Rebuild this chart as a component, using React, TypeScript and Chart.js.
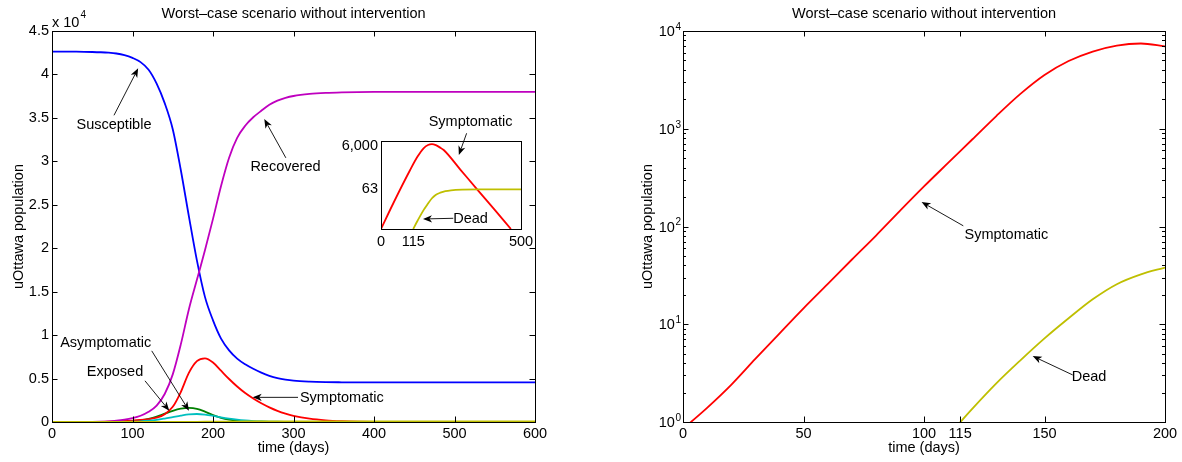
import { useEffect, useRef } from "react";
import { Chart, registerables } from "chart.js";

Chart.register(...registerables);

// ---------- left panel (linear axes), days 0..600 ----------
const DAYS = [0, 10, 20, 30, 40, 50, 60, 70, 80, 90, 100, 110, 120, 130, 140, 150, 160, 170, 180, 190, 200, 210, 220, 230, 240, 250, 260, 270, 280, 290, 300, 320, 340, 360, 380, 400, 450, 500, 550, 600];
const SUSCEPTIBLE = [42630, 42628, 42625, 42618, 42605, 42585, 42555, 42505, 42410, 42220, 41900, 41420, 40550, 38950, 36700, 33700, 29000, 23700, 18600, 14400, 11700, 9600, 8250, 7300, 6640, 6120, 5680, 5320, 5050, 4870, 4750, 4640, 4590, 4570, 4560, 4555, 4552, 4550, 4550, 4550];
const EXPOSED = [0, 0.5, 1, 2, 3, 6, 10, 18, 30, 55, 100, 200, 370, 620, 960, 1290, 1530, 1620, 1520, 1200, 800, 480, 270, 150, 85, 48, 27, 15, 9, 5, 3, 1, 0.3, 0, 0, 0, 0, 0, 0, 0];
const SYMPTOMATIC = [0.85, 1.4, 2.4, 4.4, 8, 14.5, 25, 42, 70, 110, 170, 240, 340, 500, 900, 1750, 3450, 5650, 7000, 7320, 6850, 5900, 4950, 4080, 3330, 2700, 2150, 1680, 1280, 960, 710, 380, 195, 99, 50, 25, 4.6, 0.84, 0.15, 0.03];
const ASYMPTOMATIC = [0, 0.2, 0.4, 0.8, 1.5, 2.5, 4.5, 8, 13, 22, 40, 80, 150, 250, 400, 570, 740, 880, 920, 850, 710, 540, 390, 265, 175, 112, 70, 44, 27, 17, 10, 4, 1.5, 0.5, 0, 0, 0, 0, 0, 0];
const RECOVERED = [0, 0, 1, 3, 6, 12, 30, 70, 150, 270, 450, 720, 1170, 1890, 3220, 5480, 8930, 12950, 16360, 19760, 23380, 27170, 30420, 32700, 34100, 35070, 35820, 36500, 36980, 37300, 37520, 37760, 37880, 37940, 37970, 37985, 38000, 38000, 38000, 38000];
const DEAD = [0, 0, 0, 0, 0, 0, 0, 0.02, 0.05, 0.15, 0.38, 0.72, 1.36, 2.48, 4.27, 7.16, 11.5, 18, 25.7, 32.4, 38, 43.5, 48, 51.8, 54.8, 57, 58.8, 60, 61, 61.7, 62.2, 62.7, 62.9, 63, 63, 63, 63, 63, 63, 63];

// ---------- right panel (log y), days 0..200 ----------
const LOG_DAYS = [0, 10, 20, 30, 40, 50, 60, 70, 80, 90, 100, 110, 120, 130, 140, 150, 160, 170, 180, 190, 200];
const LOG_SYMPTOMATIC = [0.851, 1.396, 2.399, 4.416, 8.035, 14.55, 25.7, 45.7, 80.4, 144.5, 257, 447, 776, 1349, 2273, 3548, 4932, 6166, 7096, 7447, 6966];
const LOG_DEAD = [0, 0, 0, 0, 0, 0, 0, 0.02, 0.05, 0.15, 0.38, 0.72, 1.36, 2.48, 4.27, 7.16, 11.5, 18, 25.7, 32.4, 38];

// ---------- inset data ----------
const INSET_SYM_DAYS = [0, 44, 104, 130, 152, 168, 182, 196, 210, 224, 284, 344, 404, 464];
const INSET_SYM = [1, 14.8, 479, 1905, 4677, 6607, 7244, 6457, 5129, 3890, 490, 61.7, 7.94, 1];
const INSET_DEAD_DAYS = [115, 130, 152, 165, 182, 195, 212, 230, 250, 290, 350, 500];
const INSET_DEAD = [1, 2.3, 7.2, 12.6, 25, 35.5, 44.7, 52.5, 57.5, 61.7, 63, 63];

// ---------- ticks / labels ----------
const TITLE = "Worst\u2013case scenario without intervention";
const X_TITLE = "time (days)";
const Y_TITLE = "uOttawa population";
const LEFT_X_MAX = 600;
const LEFT_Y_MAX = 45000;
const RIGHT_X_TICKS = [0, 50, 100, 115, 150, 200];
const RIGHT_Y_DECADES = [1, 10, 100, 1000, 10000];
const INSET_X_TICKS = [0, 115, 500];
const INSET_Y_TICKS = [63, 6000];

const COLORS = {
  S: "#0000ff",
  E: "#008000",
  Sym: "#ff0000",
  A: "#00bfbf",
  R: "#bf00bf",
  D: "#bfbf00",
};

type Note = { text: string; tx: number; ty: number; fx: number; fy: number; ax: number; ay: number };

const LEFT_NOTES: Note[] = [
  { text: "Susceptible", tx: 77, ty: 34200, fx: 77, fy: 35300, ax: 107, ay: 40700 },
  { text: "Recovered", tx: 290, ty: 29360, fx: 290.5, fy: 30400, ax: 263.7, ay: 34870 },
  { text: "Symptomatic", tx: 360, ty: 2755, fx: 305.6, fy: 2836, ax: 249.3, ay: 2836 },
  { text: "Asymptomatic", tx: 66.7, ty: 9035, fx: 123.9, fy: 8186, ax: 170.2, ay: 1297 },
  { text: "Exposed", tx: 78.3, ty: 5706, fx: 115.5, fy: 4742, ax: 145.7, ay: 1297 },
];
const RIGHT_NOTES: Note[] = [
  { text: "Symptomatic", tx: 134.2, ty: 81.8, fx: 116.3, fy: 101.6, ax: 99.0, ay: 178 },
  { text: "Dead", tx: 168.5, ty: 2.87, fx: 161.7, fy: 3.03, ax: 145.1, ay: 4.72 },
];
const INSET_NOTES: Note[] = [
  { text: "Symptomatic", tx: 320, ty: 72900, fx: 305.8, fy: 22400, ax: 278, ay: 2300 },
  { text: "Dead", tx: 320, ty: 2.85, fx: 258, fy: 3.07, ax: 150, ay: 2.85 },
];

const FAMILY = '"Liberation Sans", Arial, Helvetica, sans-serif';
const fnt = (s: number) => `${s}px ${FAMILY}`;
const FS = 14.5;
const LINE_W = 1.8;

function pts(days: number[], vals: number[], logSafe = false) {
  return days.map((d, i) => {
    const v = vals[i];
    return { x: d, y: logSafe && !(v > 0) ? null : v };
  });
}

function ds(label: string, data: any[], color: string, order: number) {
  return {
    label,
    data,
    borderColor: color,
    backgroundColor: color,
    borderWidth: LINE_W,
    pointRadius: 0,
    fill: false,
    cubicInterpolationMode: "monotone" as const,
    order,
  };
}

function drawArrow(ctx: CanvasRenderingContext2D, x1: number, y1: number, x2: number, y2: number) {
  const ang = Math.atan2(y2 - y1, x2 - x1);
  const c = Math.cos(ang), s = Math.sin(ang);
  const len = 9, half = 3.6, notch = 6.5;
  const bx = x2 - len * c, by = y2 - len * s;
  const nx = x2 - notch * c, ny = y2 - notch * s;
  ctx.save();
  ctx.strokeStyle = "#000";
  ctx.fillStyle = "#000";
  ctx.lineWidth = 0.9;
  ctx.beginPath();
  ctx.moveTo(x1, y1);
  ctx.lineTo(nx, ny);
  ctx.stroke();
  ctx.beginPath();
  ctx.moveTo(x2, y2);
  ctx.lineTo(bx - half * s, by + half * c);
  ctx.lineTo(nx, ny);
  ctx.lineTo(bx + half * s, by - half * c);
  ctx.closePath();
  ctx.fill();
  ctx.restore();
}

function drawNotes(chart: any, notes: Note[], size = FS) {
  const ctx: CanvasRenderingContext2D = chart.ctx;
  const xs = chart.scales.x, ys = chart.scales.y;
  ctx.save();
  ctx.font = fnt(size);
  ctx.fillStyle = "#000";
  ctx.textAlign = "center";
  ctx.textBaseline = "middle";
  notes.forEach((n) => {
    ctx.fillText(n.text, xs.getPixelForValue(n.tx), ys.getPixelForValue(n.ty));
    drawArrow(ctx, xs.getPixelForValue(n.fx), ys.getPixelForValue(n.fy), xs.getPixelForValue(n.ax), ys.getPixelForValue(n.ay));
  });
  ctx.restore();
}

function drawBoxAndTitles(chart: any, yTitleX: number) {
  const ctx: CanvasRenderingContext2D = chart.ctx;
  const a = chart.chartArea;
  ctx.save();
  ctx.strokeStyle = "#000";
  ctx.lineWidth = 1;
  ctx.strokeRect(Math.round(a.left) + 0.5, Math.round(a.top) + 0.5, Math.round(a.right - a.left), Math.round(a.bottom - a.top));
  ctx.fillStyle = "#000";
  ctx.textAlign = "center";
  ctx.textBaseline = "middle";
  ctx.font = fnt(FS);
  const cx = (a.left + a.right) / 2;
  ctx.fillText(TITLE, cx, 14);
  ctx.fillText(X_TITLE, cx, 448);
  ctx.translate(yTitleX, (a.top + a.bottom) / 2);
  ctx.rotate(-Math.PI / 2);
  ctx.fillText(Y_TITLE, 0, 0);
  ctx.restore();
}

function tickMarks(chart: any, xVals: number[], yVals: number[], len: number) {
  const ctx: CanvasRenderingContext2D = chart.ctx;
  const a = chart.chartArea;
  const xs = chart.scales.x, ys = chart.scales.y;
  ctx.save();
  ctx.strokeStyle = "#000";
  ctx.lineWidth = 1;
  ctx.beginPath();
  xVals.forEach((v) => {
    const x = Math.round(xs.getPixelForValue(v)) + 0.5;
    ctx.moveTo(x, a.bottom);
    ctx.lineTo(x, a.bottom - len);
    ctx.moveTo(x, a.top);
    ctx.lineTo(x, a.top + len);
  });
  yVals.forEach((v) => {
    const y = Math.round(ys.getPixelForValue(v)) + 0.5;
    ctx.moveTo(a.left, y);
    ctx.lineTo(a.left + len, y);
    ctx.moveTo(a.right, y);
    ctx.lineTo(a.right - len, y);
  });
  ctx.stroke();
  ctx.restore();
}

const tickFont = { family: FAMILY, size: FS };
const noGrid = { display: false, drawTicks: false };
const noBorder = { display: false };
const basePlugins = { legend: { display: false }, tooltip: { enabled: false }, title: { display: false } };

function makeLeft(canvas: HTMLCanvasElement) {
  const plugin = {
    id: "leftDeco",
    afterDraw(chart: any) {
      drawBoxAndTitles(chart, 19);
      tickMarks(
        chart,
        chart.scales.x.ticks.map((t: any) => t.value),
        chart.scales.y.ticks.map((t: any) => t.value),
        5.5
      );
      const ctx: CanvasRenderingContext2D = chart.ctx;
      const a = chart.chartArea;
      ctx.save();
      ctx.fillStyle = "#000";
      ctx.textBaseline = "middle";
      ctx.textAlign = "left";
      ctx.font = fnt(FS);
      const base = "x 10";
      ctx.fillText(base, a.left, 23);
      const w = ctx.measureText(base).width;
      ctx.font = fnt(10);
      ctx.fillText("4", a.left + w + 1, 15);
      ctx.restore();
      drawNotes(chart, LEFT_NOTES);
    },
  };
  return new Chart(canvas, {
    type: "line",
    data: {
      datasets: [
        ds("Susceptible", pts(DAYS, SUSCEPTIBLE), COLORS.S, 6),
        ds("Exposed", pts(DAYS, EXPOSED), COLORS.E, 5),
        ds("Symptomatic", pts(DAYS, SYMPTOMATIC), COLORS.Sym, 4),
        ds("Asymptomatic", pts(DAYS, ASYMPTOMATIC), COLORS.A, 3),
        ds("Recovered", pts(DAYS, RECOVERED), COLORS.R, 2),
        ds("Dead", pts(DAYS, DEAD), COLORS.D, 1),
      ],
    },
    options: {
      responsive: false,
      animation: false,
      events: [],
      layout: { padding: { left: 0, top: 31, right: 56, bottom: 0 } },
      plugins: basePlugins,
      scales: {
        x: {
          type: "linear",
          min: 0,
          max: LEFT_X_MAX,
          afterFit: (s: any) => { s.height = 40; },
          ticks: { stepSize: 100, font: tickFont, color: "#000", padding: 3, maxRotation: 0, autoSkip: false },
          grid: noGrid,
          border: noBorder,
        },
        y: {
          type: "linear",
          min: 0,
          max: LEFT_Y_MAX,
          afterFit: (s: any) => { s.width = 52; },
          ticks: {
            stepSize: 5000,
            font: tickFont,
            color: "#000",
            padding: 3,
            callback: (v: any) => String(Math.round((Number(v) / 10000) * 10) / 10),
          },
          grid: noGrid,
          border: noBorder,
        },
      },
    } as any,
    plugins: [plugin],
  });
}

function makeRight(canvas: HTMLCanvasElement) {
  const plugin = {
    id: "rightDeco",
    afterDraw(chart: any) {
      drawBoxAndTitles(chart, 57);
      const minors: number[] = [];
      RIGHT_Y_DECADES.slice(0, -1).forEach((d) => {
        for (let k = 2; k <= 9; k++) minors.push(d * k);
      });
      tickMarks(chart, RIGHT_X_TICKS, RIGHT_Y_DECADES, 5.5);
      tickMarks(chart, [], minors, 3);
      const ctx: CanvasRenderingContext2D = chart.ctx;
      const a = chart.chartArea;
      const ys = chart.scales.y;
      ctx.save();
      ctx.fillStyle = "#000";
      ctx.textBaseline = "middle";
      ctx.textAlign = "right";
      RIGHT_Y_DECADES.forEach((v) => {
        const y = ys.getPixelForValue(v);
        const exp = String(Math.round(Math.log10(v)));
        ctx.font = fnt(10);
        const ew = ctx.measureText(exp).width;
        ctx.fillText(exp, a.left - 2, y - 4);
        ctx.font = fnt(FS);
        ctx.fillText("10", a.left - 2.5 - ew, y + 1);
      });
      ctx.restore();
      drawNotes(chart, RIGHT_NOTES);
    },
  };
  return new Chart(canvas, {
    type: "line",
    data: {
      datasets: [
        ds("Symptomatic", pts(LOG_DAYS, LOG_SYMPTOMATIC, true), COLORS.Sym, 2),
        ds("Dead", pts(LOG_DAYS, LOG_DEAD, true), COLORS.D, 1),
      ],
    },
    options: {
      responsive: false,
      animation: false,
      events: [],
      spanGaps: false,
      layout: { padding: { left: 0, top: 31, right: 17, bottom: 0 } },
      plugins: basePlugins,
      scales: {
        x: {
          type: "linear",
          min: 0,
          max: 200,
          afterFit: (s: any) => { s.height = 40; },
          afterBuildTicks: (s: any) => { s.ticks = RIGHT_X_TICKS.map((v) => ({ value: v })); },
          ticks: { font: tickFont, color: "#000", padding: 3, maxRotation: 0, autoSkip: false, callback: (v: any) => String(v) },
          grid: noGrid,
          border: noBorder,
        },
        y: {
          type: "logarithmic",
          min: 1,
          max: 10000,
          afterFit: (s: any) => { s.width = 92; },
          ticks: { display: false },
          grid: noGrid,
          border: noBorder,
        },
      },
    } as any,
    plugins: [plugin],
  });
}

function makeInset(canvas: HTMLCanvasElement) {
  const plugin = {
    id: "insetDeco",
    beforeDatasetsDraw(chart: any) {
      const a = chart.chartArea;
      const ctx: CanvasRenderingContext2D = chart.ctx;
      ctx.save();
      ctx.fillStyle = "#fff";
      ctx.fillRect(a.left, a.top, a.right - a.left, a.bottom - a.top);
      ctx.restore();
    },
    afterDraw(chart: any) {
      const a = chart.chartArea;
      const ctx: CanvasRenderingContext2D = chart.ctx;
      ctx.save();
      ctx.strokeStyle = "#000";
      ctx.lineWidth = 1;
      ctx.strokeRect(Math.round(a.left) + 0.5, Math.round(a.top) + 0.5, Math.round(a.right - a.left), Math.round(a.bottom - a.top));
      ctx.restore();
      drawNotes(chart, INSET_NOTES);
    },
  };
  return new Chart(canvas, {
    type: "line",
    data: {
      datasets: [
        ds("Symptomatic", pts(INSET_SYM_DAYS, INSET_SYM), COLORS.Sym, 2),
        ds("Dead", pts(INSET_DEAD_DAYS, INSET_DEAD), COLORS.D, 1),
      ],
    },
    options: {
      responsive: false,
      animation: false,
      events: [],
      layout: { padding: { left: 0, top: 41, right: 19, bottom: 0 } },
      plugins: basePlugins,
      scales: {
        x: {
          type: "linear",
          min: 0,
          max: 500,
          afterFit: (s: any) => { s.height = 31; },
          afterBuildTicks: (s: any) => { s.ticks = INSET_X_TICKS.map((v) => ({ value: v })); },
          ticks: { font: tickFont, color: "#000", padding: 4, maxRotation: 0, autoSkip: false, callback: (v: any) => String(v) },
          grid: noGrid,
          border: noBorder,
        },
        y: {
          type: "logarithmic",
          min: 1,
          max: 10000,
          afterFit: (s: any) => { s.width = 51; },
          afterBuildTicks: (s: any) => { s.ticks = INSET_Y_TICKS.map((v) => ({ value: v })); },
          ticks: { font: tickFont, color: "#000", padding: 3, callback: (v: any) => Number(v).toLocaleString("en-US") },
          grid: noGrid,
          border: noBorder,
        },
      },
    } as any,
    plugins: [plugin],
  });
}

export default function App() {
  const leftRef = useRef<HTMLCanvasElement>(null);
  const rightRef = useRef<HTMLCanvasElement>(null);
  const insetRef = useRef<HTMLCanvasElement>(null);

  useEffect(() => {
    const charts = [makeLeft(leftRef.current!), makeRight(rightRef.current!), makeInset(insetRef.current!)];
    return () => charts.forEach((c) => c.destroy());
  }, []);

  const cs = (left: number, top: number, w: number, h: number) =>
    ({ position: "absolute", left, top, width: w, height: h, display: "block" } as const);

  return (
    <div style={{ position: "absolute", left: 0, top: 0, width: 1182, height: 462, background: "#fff", overflow: "hidden" }}>
      <canvas ref={leftRef} width={591} height={462} style={cs(0, 0, 591, 462)} />
      <canvas ref={rightRef} width={591} height={462} style={cs(591, 0, 591, 462)} />
      <canvas ref={insetRef} width={210} height={160} style={cs(330, 100, 210, 160)} />
    </div>
  );
}
